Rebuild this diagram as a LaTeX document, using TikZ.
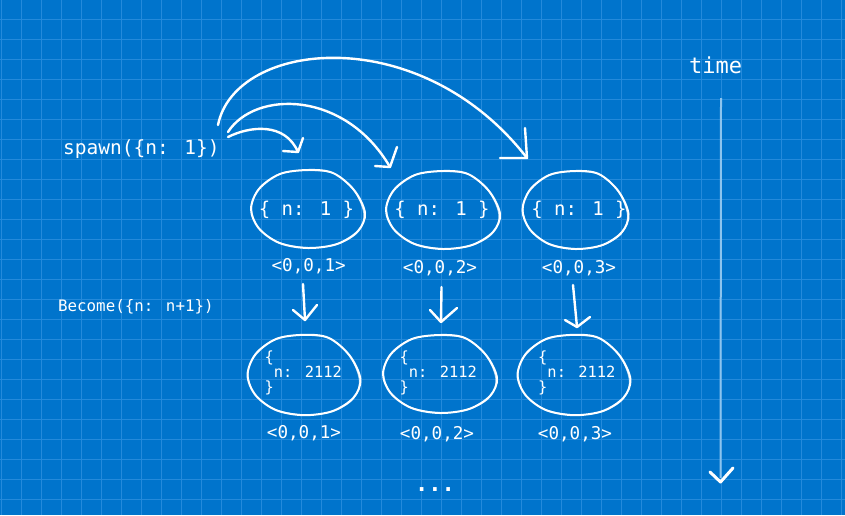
\documentclass[tikz,border=0pt]{standalone}
\usepackage{fontspec}
\newfontfamily\mono{DejaVu Sans Mono}
\definecolor{bp}{RGB}{0,116,204}
\definecolor{gridc}{RGB}{36,138,219}
\definecolor{timec}{RGB}{140,196,238}
\newcommand\sketchblob[4]{%
 \begin{scope}[shift={(#1,#2)},xscale=#3,yscale=#4]
  \draw[blobline] plot[smooth cycle,tension=0.55] coordinates {(57,4) (50,22) (29,35) (0,39) (-28.5,34) (-49,19.5) (-57,0) (-49,-20) (-28,-35) (0,-39) (25,-36) (46,-19)};
  \draw[blobthin] plot[smooth cycle,tension=0.55] coordinates {(56,6) (49,24) (27,36) (-2,38.5) (-30,33) (-50,18) (-56.5,-2) (-48,-22) (-26,-36) (2,-38.5) (27,-35) (47,-17)};
 \end{scope}}
\begin{document}
\begin{tikzpicture}[x=1pt,y=-1pt,
  txt/.style={text=white,inner sep=0pt},
  ink/.style={draw=white,line width=2.4pt,line cap=round,line join=round},
  blobline/.style={draw=white,line width=2pt,line cap=round},
  blobthin/.style={draw=white,line width=1pt,opacity=0.7},
  valtxt/.style={txt,font=\mono\fontsize{19}{23}\selectfont},
  idtxt/.style={txt,font=\mono\fontsize{17.6}{21}\selectfont},
  stxt/.style={txt,font=\mono\fontsize{15.4}{15}\selectfont,align=left,anchor=west}]
\fill[bp] (0,0) rectangle (845,515);
\useasboundingbox (0,0) rectangle (845,515);
\foreach \i in {0,...,42} \draw[gridc,line width=1pt] (1+20*\i,0) -- (1+20*\i,515);
\foreach \j in {0,...,24} \draw[gridc,line width=1pt] (0,19+20*\j) -- (845,19+20*\j);

% texts
\node[txt,font=\mono\fontsize{19.5}{23}\selectfont,anchor=base west] (spawn) at (63,154) {spawn(\{n: 1\})};
\node[txt,font=\mono\fontsize{15.8}{19}\selectfont,anchor=west] (become) at (58,307) {Become(\{n: n+1\})};
\node[txt,font=\mono\fontsize{22}{26}\selectfont,anchor=base] (time) at (715.5,73) {time};

\node[valtxt] (v1) at (306.5,210) {\{ n: 1 \}};
\node[valtxt] (v2) at (442,210) {\{ n: 1 \}};
\node[valtxt] (v3) at (579,210) {\{ n: 1 \}};
\node[idtxt] (i1) at (308.7,266) {<0,0,1>};
\node[idtxt] (i2) at (440,268) {<0,0,2>};
\node[idtxt] (i3) at (579,268) {<0,0,3>};

\node[stxt] (w1) at (264.5,373) {\{\\\phantom{\{}n: 2112\\\}};
\node[stxt] (w2) at (399.5,373) {\{\\\phantom{\{}n: 2112\\\}};
\node[stxt] (w3) at (538,373) {\{\\\phantom{\{}n: 2112\\\}};
\node[idtxt] (j1) at (304,433) {<0,0,1>};
\node[idtxt] (j2) at (437,434) {<0,0,2>};
\node[idtxt] (j3) at (575,434) {<0,0,3>};
\node[txt,font=\mono\bfseries\fontsize{22}{24}\selectfont,anchor=base] (dots) at (435,491) {...};

% blobs
\sketchblob{308}{209}{1}{1}
\sketchblob{443}{210}{1}{1}
\sketchblob{575.5}{210}{0.93}{1}
\sketchblob{304}{375}{0.99}{1.03}
\sketchblob{440}{374}{1}{1}
\sketchblob{574}{375}{0.99}{1.03}

% spawn arrows
\coordinate (aS) at (228,137); \coordinate (aE) at (298,152);
\coordinate (bS) at (228,132); \coordinate (bE) at (390,167);
\coordinate (cS) at (218,125); \coordinate (cE) at (527,158);
\draw[ink] (aS) .. controls (250,126) and (285,122) .. (aE);
\draw[ink] (283,151) -- (aE) -- (303,138);
\draw[ink] (bS) .. controls (255,90) and (345,90) .. (bE);
\draw[ink] (375,166) -- (bE) -- (397,147);
\draw[ink] (cS) .. controls (235,40) and (420,20) .. (cE);
\draw[ink] (500,158) -- (cE) -- (525,128);

% down arrows
\coordinate (d1s) at (303,284); \coordinate (d1e) at (305,320);
\coordinate (d2s) at (441.5,287); \coordinate (d2e) at (441,322);
\coordinate (d3s) at (573,285); \coordinate (d3e) at (577,327);
\draw[ink] (d1s) -- (d1e); \draw[ink] (293,310) -- (d1e) -- (317,305);
\draw[ink] (d2s) -- (d2e); \draw[ink] (430,310) -- (d2e) -- (457,308);
\draw[ink] (d3s) -- (d3e); \draw[ink] (565,320) -- (d3e) -- (590,317);

% time line
\coordinate (tS) at (721,98); \coordinate (tE) at (720.5,482);
\draw[timec,line width=2pt] (tS) -- (720.5,478);
\draw[ink,line width=3pt] (710,472) -- (tE) -- (733,468);
\end{tikzpicture}
\end{document}
